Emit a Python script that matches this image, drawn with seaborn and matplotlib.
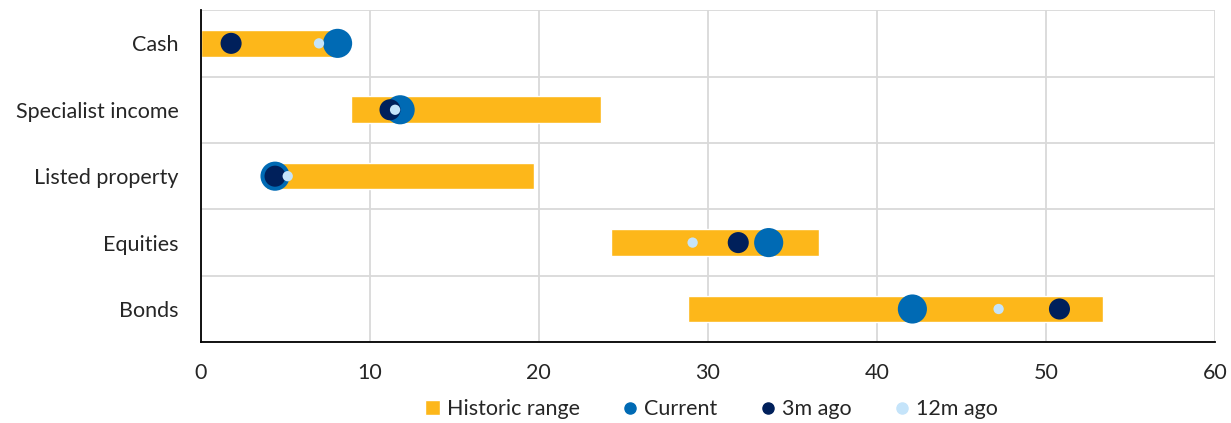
import numpy as np
import pandas as pd
import matplotlib
matplotlib.use('Agg')
import matplotlib.pyplot as plt
import seaborn as sns
from matplotlib.lines import Line2D
from matplotlib.patches import Patch

categories = ['Cash', 'Specialist income', 'Listed property', 'Equities', 'Bonds']
range_low = [0.0, 8.9, 3.85, 24.3, 28.8]
range_high = [8.0, 23.7, 19.7, 36.6, 53.4]
current = [8.1, 11.8, 4.4, 33.6, 42.1]
ago_3m = [1.8, 11.2, 4.4, 31.8, 50.8]
ago_12m = [7.0, 11.5, 5.15, 29.1, 47.2]

sns.set_style('white')
plt.rcParams['font.family'] = ['Lato', 'DejaVu Sans']

c_range = '#FDB71A'
c_cur = '#006AB4'
c_3m = '#00205B'
c_12m = '#C5E4FA'

df = pd.DataFrame({'category': categories, 'low': range_low, 'high': range_high,
                   'Current': current, '3m ago': ago_3m, '12m ago': ago_12m})
df['pos'] = np.arange(len(df))

fig = plt.figure(figsize=(12.31, 4.23), dpi=100)
ax = fig.add_axes([0.163, 0.191, 0.824, 0.785])

ax.barh(df['pos'], df['high'] - df['low'], left=df['low'], height=0.4, color=c_range, zorder=2)
sns.scatterplot(data=df, x='Current', y='pos', s=440, color=c_cur, edgecolor='none', ax=ax, zorder=3)
sns.scatterplot(data=df, x='3m ago', y='pos', s=230, color=c_3m, edgecolor='none', ax=ax, zorder=4)
sns.scatterplot(data=df, x='12m ago', y='pos', s=55, color=c_12m, edgecolor='none', ax=ax, zorder=5)

ax.set_xlim(0, 60)
ax.set_ylim(4.5, -0.5)
ax.set_xticks(range(0, 61, 10))
ax.set_yticks(df['pos'])
ax.set_yticklabels(categories)
ax.set_yticks(np.arange(-0.5, 5, 1), minor=True)
ax.tick_params(axis='both', which='both', length=0, labelsize=15.5)
ax.tick_params(axis='y', pad=16)
ax.tick_params(axis='x', pad=15)
ax.grid(axis='x', which='major', color='#d9d9d9', linewidth=1.3, zorder=0)
ax.grid(axis='y', which='minor', color='#d9d9d9', linewidth=1.3, zorder=0)
ax.set_axisbelow(True)
ax.set_xlabel('')
ax.set_ylabel('')
for s in ['top', 'right']:
    ax.spines[s].set_visible(False)
for s in ['left', 'bottom']:
    ax.spines[s].set_color('black')
    ax.spines[s].set_linewidth(1.3)

handles = [
    Patch(facecolor=c_range, label='Historic range'),
    Line2D([], [], marker='o', linestyle='', color=c_cur, markersize=8, label='Current'),
    Line2D([], [], marker='o', linestyle='', color=c_3m, markersize=8, label='3m ago'),
    Line2D([], [], marker='o', linestyle='', color=c_12m, markersize=8, label='12m ago'),
]
fig.legend(handles=handles, loc='center', bbox_to_anchor=(0.578, 0.032), ncol=4, frameon=False,
           fontsize=15.5, handlelength=0.7, handletextpad=0.3, columnspacing=2.0)

fig.savefig('out.png', dpi=100)
